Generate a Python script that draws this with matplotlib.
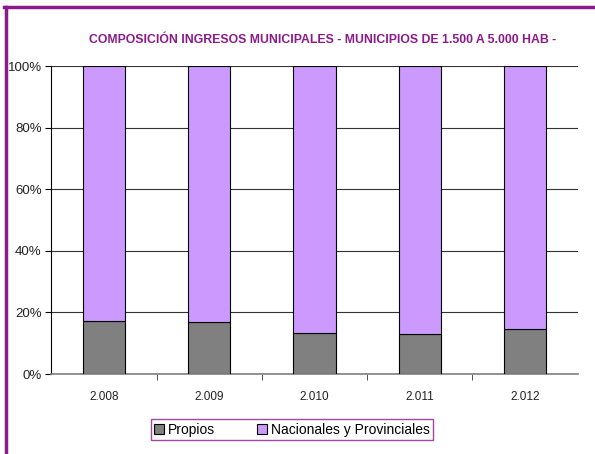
import matplotlib.pyplot as plt
from matplotlib.lines import Line2D
from matplotlib.ticker import FixedLocator

years = ["2.008", "2.009", "2.010", "2.011", "2.012"]
propios = [17.2, 16.9, 13.3, 13.1, 14.5]
nacionales = [100 - p for p in propios]

plt.rcParams['font.family'] = ['Liberation Sans', 'DejaVu Sans']

fig = plt.figure(figsize=(5.95, 4.54), dpi=100)
ax = fig.add_axes([0.0864, 0.1762, 0.8844, 0.6784])

x = range(len(years))
ax.bar(x, propios, width=0.4, color="#808080", edgecolor="black", linewidth=0.8,
       label="Propios", zorder=3)
ax.bar(x, nacionales, width=0.4, bottom=propios, color="#CC99FF", edgecolor="black",
       linewidth=0.8, label="Nacionales y Provinciales", zorder=3)

ax.set_xlim(-0.5, len(years) - 0.5)
ax.set_ylim(0, 100)
ax.set_yticks(range(0, 101, 20))
ax.set_yticklabels([f"{v}%" for v in range(0, 101, 20)], fontsize=9.5, color="#222222")
ax.yaxis.grid(True, color="#333333", linewidth=0.8, zorder=0)

ax.set_xticks(list(x))
ax.set_xticklabels(years, fontsize=8.5, color="#222222")
ax.xaxis.set_minor_locator(FixedLocator([i + 0.5 for i in range(len(years) - 1)]))
ax.tick_params(axis="x", which="major", length=0, pad=12)
ax.tick_params(axis="x", which="minor", length=4, color="#333333")
ax.tick_params(axis="y", length=4, pad=3)

for s in ["top", "right"]:
    ax.spines[s].set_visible(False)
ax.spines["left"].set_color("black")
ax.spines["bottom"].set_color("#808080")
ax.spines["bottom"].set_linewidth(1.2)

fig.text(0.543, 0.912, "COMPOSICIÓN INGRESOS MUNICIPALES - MUNICIPIOS DE 1.500 A 5.000 HAB -",
         ha="center", va="center", fontsize=8.8, fontweight="bold", color="#8B1A8B")

leg = fig.legend(loc="center", bbox_to_anchor=(0.491, 0.053), ncol=2, fontsize=10,
                 frameon=True, fancybox=False, handlelength=0.7, handleheight=0.7,
                 columnspacing=3.0, handletextpad=0.3, borderpad=0.25)
leg.get_frame().set_edgecolor("#8B1A8B")
leg.get_frame().set_linewidth(1.0)

fig.add_artist(Line2D([4 / 595, 1.0], [1 - 7 / 454, 1 - 7 / 454], color="#8B1A8B", linewidth=2.5))
fig.add_artist(Line2D([5.5 / 595, 5.5 / 595], [0, 1 - 7 / 454], color="#8B1A8B", linewidth=2.5))

fig.savefig("out.png", dpi=100)
